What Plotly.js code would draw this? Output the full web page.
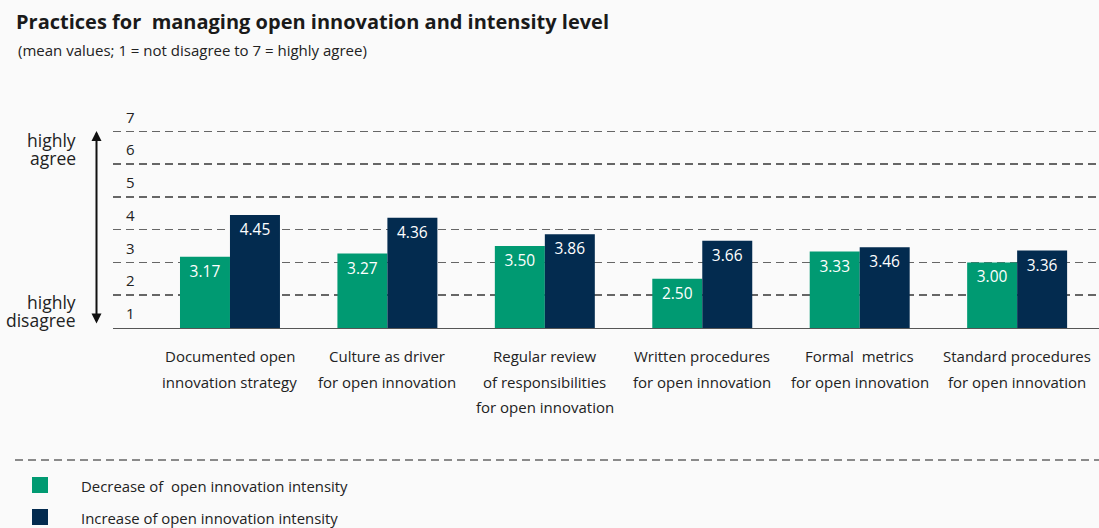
<!DOCTYPE html>
<html>
<head>
<meta charset="utf-8">
<script src="https://cdn.plot.ly/plotly-3.0.1.min.js"></script>
<style>html,body{margin:0;padding:0;background:#fafafa;}#chart{width:1099px;height:528px;}</style>
</head>
<body>
<div id="chart"></div>
<script>
// ---- data ----
const categories = [
  "Documented open<br>innovation strategy",
  "Culture as driver<br>for open innovation",
  "Regular review<br>of responsibilities<br>for open innovation",
  "Written procedures<br>for open innovation",
  "Formal  metrics<br>for open innovation",
  "Standard procedures<br>for open innovation"
];
const decreaseValues = [3.17, 3.27, 3.50, 2.50, 3.33, 3.00];
const increaseValues = [4.45, 4.36, 3.86, 3.66, 3.46, 3.36];
const seriesNames = ["Decrease of  open innovation intensity", "Increase of open innovation intensity"];
const yTickVals = [1, 2, 3, 4, 5, 6, 7];
const yTickText = ["1", "2", "3", "4", "5", "6", "7"];
const scaleEndLabels = ["highly<br>agree", "highly<br>disagree"];

// ---- style ----
const W = 1099, H = 528, ML = 113, MR = 0, MT = 128, MB = 200;
const PW = W - ML - MR, PH = H - MT - MB;
const px2x = px => (px - ML) / PW;
const py2y = py => (H - MB - py) / PH;
const FONT = "Open Sans, Noto Sans, sans-serif";
const GREEN = "#009a72", NAVY = "#032b4f", TXT = "#222222";

const idx = categories.map((c, i) => i);
const fmt = v => v.toFixed(2);

const traces = [
  {type: "bar", x: idx, y: decreaseValues, name: seriesNames[0], marker: {color: GREEN},
   text: decreaseValues.map(fmt), textposition: "inside", insidetextanchor: "end",
   textfont: {color: "#ffffff", size: 15.5, family: FONT}, constraintext: "none", cliponaxis: true},
  {type: "bar", x: idx, y: increaseValues, name: seriesNames[1], marker: {color: NAVY},
   text: increaseValues.map(fmt), textposition: "inside", insidetextanchor: "end",
   textfont: {color: "#ffffff", size: 15.5, family: FONT}, constraintext: "none", cliponaxis: true}
];

const annotations = [];
// category labels
categories.forEach((c, i) => {
  c.split("<br>").forEach((line, k) => {
    annotations.push({xref: "x", yref: "paper", x: i, y: py2y(356 + k * 25.5), text: line,
      showarrow: false, xanchor: "center", yanchor: "middle", font: {size: 15, color: TXT, family: FONT}});
  });
});
// left side texts
const endCenters = [140, 302];
scaleEndLabels.forEach((lbl, j) => {
  lbl.split("<br>").forEach((t, k) => {
    annotations.push({xref: "paper", yref: "paper", x: px2x(78), y: py2y(endCenters[j] + k * 18), text: t,
      showarrow: false, xanchor: "right", yanchor: "middle", font: {size: 17.5, color: TXT, family: FONT}});
  });
});
// double arrow
annotations.push({xref: "paper", yref: "paper", x: px2x(96.5), y: py2y(131), axref: "pixel", ayref: "pixel",
  ax: 0, ay: 325 - 131, text: "", showarrow: true, arrowside: "end+start", arrowhead: 2, startarrowhead: 2,
  arrowsize: 1, startarrowsize: 1, arrowwidth: 2, arrowcolor: "#111111", standoff: 0, startstandoff: 0});
// subtitle
annotations.push({xref: "paper", yref: "paper", x: px2x(16), y: py2y(50), text: "(mean values; 1 = not disagree to 7 = highly agree)",
  showarrow: false, xanchor: "left", yanchor: "middle", font: {size: 15, color: TXT, family: FONT}});
// legend texts
seriesNames.forEach((n, k) => {
  annotations.push({xref: "paper", yref: "paper", x: px2x(79), y: py2y(486 + k * 32), text: n, showarrow: false,
    xanchor: "left", yanchor: "middle", font: {size: 14.9, color: TXT, family: FONT}});
});

const legendColors = [GREEN, NAVY];
const shapes = [
  {type: "line", xref: "paper", yref: "paper", x0: px2x(15), x1: 1, y0: py2y(460), y1: py2y(460),
   line: {color: "#666666", width: 1.5, dash: "8px,5px"}}
];
legendColors.forEach((col, k) => {
  shapes.push({type: "rect", xref: "paper", yref: "paper", x0: px2x(32), x1: px2x(48),
    y0: py2y(493 + k * 32), y1: py2y(477 + k * 32), fillcolor: col, line: {width: 0}});
});

const layout = {
  width: W, height: H,
  margin: {l: ML, r: MR, t: MT, b: MB, pad: 0},
  paper_bgcolor: "#fafafa", plot_bgcolor: "#fafafa",
  font: {family: FONT, color: TXT},
  showlegend: false,
  barmode: "group", bargap: 0.365, bargroupgap: 0,
  title: {text: "<b>Practices for  managing open innovation and intensity level</b>",
    x: 16 / W, xanchor: "left", xref: "container", y: 1 - 22 / H, yanchor: "middle", yref: "container",
    font: {size: 20, color: "#1a1a1a", family: FONT}},
  xaxis: {type: "linear", range: [-0.743, 5.52], showticklabels: false, showgrid: false, zeroline: false,
    showline: true, linecolor: "#555555", linewidth: 1.2, ticks: ""},
  yaxis: {range: [1, 7.1], tickvals: yTickVals, ticktext: yTickText, ticklabelposition: "inside",
    ticklabelshift: -14, ticklabelstandoff: 10, ticklabeloverflow: "allow",
    tickfont: {size: 15, color: TXT, family: FONT}, ticks: "",
    showgrid: true, gridcolor: "#666666", gridwidth: 1.5, griddash: "8px,5px", zeroline: false, showline: false},
  annotations: annotations,
  shapes: shapes
};

Plotly.newPlot("chart", traces, layout, {displayModeBar: false, staticPlot: true});
</script>
</body>
</html>
